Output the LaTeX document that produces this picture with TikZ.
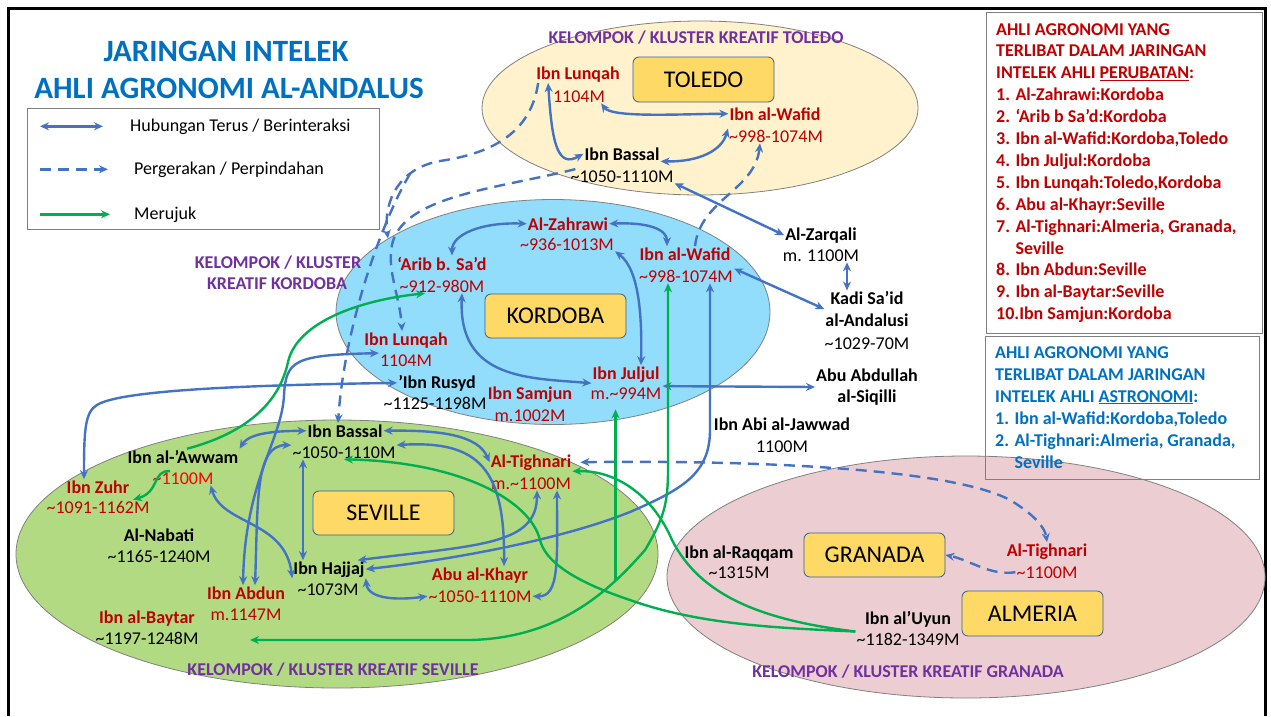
\documentclass[tikz,border=0pt]{standalone}
\usepackage{fontspec}
\setmainfont{Carlito}
\usetikzlibrary{arrows.meta,shapes.geometric}
\tikzset{>={Stealth[length=9pt,width=8pt]}}
\definecolor{blu}{RGB}{68,114,196}
\definecolor{grn}{RGB}{0,176,80}
\definecolor{dred}{RGB}{192,0,0}
\definecolor{purp}{RGB}{112,48,160}
\definecolor{tblue}{RGB}{0,112,192}
\definecolor{ftol}{RGB}{255,242,204}
\definecolor{fkor}{RGB}{146,221,251}
\definecolor{fsev}{RGB}{178,218,130}
\definecolor{fgra}{RGB}{236,206,210}
\definecolor{gold}{RGB}{255,217,102}
\newcommand*{\apx}{\textasciitilde}

\begin{document}
\begin{tikzpicture}[x=1pt,y=-1pt,
  nm/.style={anchor=base,yshift=-6pt,inner sep=1pt,text=dred,font=\fontsize{18}{21}\selectfont\bfseries},
  nmk/.style={nm,text=black},
  dt/.style={anchor=base,yshift=-6pt,inner sep=1pt,text=dred,font=\fontsize{18}{21}\selectfont},
  dtk/.style={dt,text=black},
  ml/.style={anchor=center,inner sep=1pt,align=center,font=\fontsize{18}{21.5}\selectfont\bfseries},
  clus/.style={ellipse,draw=gray,line width=0.8pt,inner sep=0pt},
  city/.style={draw=blu!80!black,line width=0.8pt,fill=gold,rounded corners=6pt,inner sep=0pt,font=\fontsize{24}{27}\selectfont},
  kl/.style={anchor=base,yshift=-6pt,inner sep=1pt,text=purp,font=\fontsize{18}{21}\selectfont\bfseries},
  lg/.style={anchor=base west,yshift=-6pt,inner sep=0pt,font=\fontsize{18}{21}\selectfont},
  bl/.style={draw=blu,line width=2.4pt},
  gr/.style={draw=grn,line width=2.4pt},
  dsh/.style={dash pattern=on 11pt off 7pt}]
\useasboundingbox (0,0) rectangle (1271,716);
\fill[white] (0,0) rectangle (1271,716);
\draw[line width=3pt] (8,716) -- (8,8) -- (1265,8) -- (1265,716);

% clusters
\node[clus,fill=ftol,minimum width=436pt,minimum height=174pt] (toledo) at (700,108) {};
\node[clus,fill=fkor,minimum width=434pt,minimum height=225pt] (kordoba) at (553,312) {};
\node[clus,fill=fsev,minimum width=642pt,minimum height=268pt] (seville) at (337,554) {};
\node[clus,fill=fgra,minimum width=598pt,minimum height=242pt] (granada) at (966,577) {};

\node[kl] (kt) at (696,37) {KELOMPOK / KLUSTER KREATIF TOLEDO};
\node[kl] (kk1) at (278,262) {KELOMPOK / KLUSTER};
\node[kl] (kk2) at (277,283) {KREATIF KORDOBA};
\node[kl] (ks) at (333,669) {KELOMPOK / KLUSTER KREATIF SEVILLE};
\node[kl] (kg) at (908,671) {KELOMPOK / KLUSTER KREATIF GRANADA};

\node[city,minimum width=141pt,minimum height=45pt] (ctol) at (703.5,79.5) {TOLEDO};
\node[city,minimum width=141pt,minimum height=44pt] (ckor) at (555.5,316) {KORDOBA};
\node[city,minimum width=141pt,minimum height=44pt] (csev) at (383.5,513) {SEVILLE};
\node[city,minimum width=141pt,minimum height=44pt] (gra) at (874.5,555) {GRANADA};
\node[city,minimum width=141pt,minimum height=45pt] (alm) at (1032.5,613.5) {ALMERIA};

% title and legend
\node[anchor=base,yshift=-11pt,text=tblue,font=\fontsize{31}{36}\selectfont\bfseries] (t1) at (226,50) {JARINGAN INTELEK};
\node[anchor=base,yshift=-11pt,text=tblue,font=\fontsize{31}{36}\selectfont\bfseries] (t2) at (229,87) {AHLI AGRONOMI AL-ANDALUS};
\draw[gray,line width=0.8pt] (27,108) rectangle (379,229);
\node[lg] (lg1) at (130,125) {Hubungan Terus / Berinteraksi};
\node[lg] (lg2) at (134,168) {Pergerakan / Perpindahan};
\node[lg] (lg3) at (134,213) {Merujuk};
\draw[bl,<->] ([xshift=-90pt]lg1.west) -- ([xshift=-27pt]lg1.west);
\draw[bl,dsh,->] ([xshift=-94pt]lg2.west) -- ([xshift=-26pt]lg2.west);
\draw[gr,->] ([xshift=-94pt]lg3.west) -- ([xshift=-24pt]lg3.west);

% lists on the right
\draw[gray,line width=0.8pt] (986,12) rectangle (1262,333);
\draw[gray,line width=0.8pt] (985,336) rectangle (1259,479);
\foreach \t [count=\i from 0] in {{AHLI AGRONOMI YANG},{TERLIBAT DALAM JARINGAN},
  {INTELEK AHLI \underline{PERUBATAN}:},{1. Al-Zahrawi:Kordoba},{2. ‘Arib b Sa’d:Kordoba},
  {3. Ibn al-Wafid:Kordoba,Toledo},{4. Ibn Juljul:Kordoba},{5. Ibn Lunqah:Toledo,Kordoba},
  {6. Abu al-Khayr:Seville},{7. Al-Tighnari:Almeria, Granada,},{\hphantom{7. }Seville},
  {8. Ibn Abdun:Seville},{9. Ibn al-Baytar:Seville},{10.Ibn Samjun:Kordoba}}
  \node[lg,yshift=6pt,text=dred,font=\fontsize{18}{21}\selectfont\bfseries] (r\i) at (996,{35+21.9*\i}) {\t};
\foreach \t [count=\i from 0] in {{AHLI AGRONOMI YANG},{TERLIBAT DALAM JARINGAN},
  {INTELEK AHLI \underline{ASTRONOMI}:},{1. Ibn al-Wafid:Kordoba,Toledo},
  {2. Al-Tighnari:Almeria, Granada,},{\hphantom{2. }Seville}}
  \node[lg,yshift=6pt,text=tblue,font=\fontsize{18}{21}\selectfont\bfseries] (b\i) at (995,{358+22*\i}) {\t};

% Toledo
\node[nm] (lunT) at (578,73) {Ibn Lunqah};
\node[dt] (lunTd) at (579,96) {1104M};
\node[nm] (wafT) at (775,114) {Ibn al-Wafid};
\node[dt] (wafTd) at (776,136) {\apx998-1074M};
\node[nmk] (basT) at (622,154) {Ibn Bassal};
\node[dtk] (basTd) at (622,176) {\apx1050-1110M};

% Kordoba
\node[nm] (zah) at (568,224) {Al-Zahrawi};
\node[dt] (zahd) at (567,244) {\apx936-1013M};
\node[nm] (arib) at (442,264) {‘Arib b. Sa’d};
\node[dt] (aribd) at (442,286) {\apx912-980M};
\node[nm] (lunK) at (406,339) {Ibn Lunqah};
\node[dt] (lunKd) at (406,360) {1104M};
\node[nm] (wafK) at (685,254) {Ibn al-Wafid};
\node[dt] (wafKd) at (686,276) {\apx998-1074M};
\node[nm] (jul) at (626,373) {Ibn Juljul};
\node[dt] (juld) at (626,393) {m.\apx994M};
\node[nm] (sam) at (530,393) {Ibn Samjun};
\node[dt] (samd) at (530,415) {m.1002M};
\node[nmk] (rus) at (437,382) {’Ibn Rusyd};
\node[dtk] (rusd) at (435,403) {\apx1125-1198M};

% outside the clusters
\node[nmk] (zar) at (821,234) {Al-Zarqali};
\node[dtk] (zard) at (821,255) {m. 1100M};
\node[ml] (kadi) at (867,309) {Kadi Sa’id\\al-Andalusi};
\node[dtk] (kadid) at (867,343) {\apx1029-70M};
\node[ml] (abu) at (867,387) {Abu Abdullah\\al-Siqilli};
\node[nmk] (jaw) at (782,424) {Ibn Abi al-Jawwad};
\node[dtk] (jawd) at (782,446) {1100M};

% Seville
\node[nmk] (basS) at (345,431) {Ibn Bassal};
\node[dtk] (basSd) at (344,452) {\apx1050-1110M};
\node[nmk] (awm) at (183,457) {Ibn al-’Awwam};
\node[dt,text=red] (awmd) at (183,478) {\apx1100M};
\node[nm] (zuhr) at (98,487) {Ibn Zuhr};
\node[dt] (zuhrd) at (98,507) {\apx1091-1162M};
\node[nmk] (nab) at (159,535) {Al-Nabati};
\node[dtk] (nabd) at (159,556) {\apx1165-1240M};
\node[nm] (bay) at (147,617) {Ibn al-Baytar};
\node[dtk] (bayd) at (147,638) {\apx1197-1248M};
\node[nm] (abd) at (246,593) {Ibn Abdun};
\node[dt] (abdd) at (246,614) {m.1147M};
\node[nmk] (haj) at (329,568) {Ibn Hajjaj};
\node[dtk] (hajd) at (328,589) {\apx1073M};
\node[nm] (tigS) at (531,461) {Al-Tighnari};
\node[dt] (tigSd) at (531,483) {m.\apx1100M};
\node[nm] (khay) at (480,574) {Abu al-Khayr};
\node[dt] (khayd) at (480,596) {\apx1050-1110M};

% Granada
\node[nmk] (raq) at (739,552) {Ibn al-Raqqam};
\node[dtk] (raqd) at (739,572) {\apx1315M};
\node[nm] (tigG) at (1047,550) {Al-Tighnari};
\node[dt] (tigGd) at (1047,572) {\apx1100M};
\node[nmk] (uyun) at (908,618) {Ibn al’Uyun};
\node[dtk] (uyund) at (908,639) {\apx1182-1349M};

% links in Toledo
\draw[bl,<->] ([xshift=13pt]lunT.south west) .. controls (552,145) and (558,168) .. (basT.west);
\draw[bl,<->] ([xshift=-5pt]lunTd.south east) .. controls (612,118) and (680,114) .. (wafT.west);
\draw[bl,<->] (basT.south east) .. controls (700,162) and (722,150) .. (wafTd.north west);
\draw[bl,<->] (basTd.south east) -- (zar.west);

% links in Kordoba
\draw[bl,<->] ([xshift=10pt]arib.north) .. controls (452,235) and (480,222) .. (zah.west);
\draw[bl,<->] (zah.east) .. controls (650,222) and (667,230) .. ([xshift=-18pt]wafK.north);
\draw[bl,<->] (zahd.south east) .. controls (640,270) and (642,320) .. ([xshift=15pt]jul.north);
\draw[bl,<->] ([xshift=20pt]aribd.south) .. controls (458,380) and (530,378) .. (jul.south west);
\draw[bl,<->] (wafKd.north east) -- (kadi.west);
\draw[bl,<->] ([xshift=26pt]zard.south) -- ([xshift=-20pt]kadi.north);
\draw[bl,<->] (juld.north east) -- (abu.west);
\draw[bl,<->] ([xshift=24pt]wafKd.south) -- (710,430) .. controls (710,475) and (680,490) .. (630,512)
  .. controls (560,540) and (450,560) .. (haj.east);

% links in Seville
\draw[bl,<->] ([xshift=6pt]tigSd.south) .. controls (537,545) and (480,545) .. ([xshift=-8pt]haj.north east);
\draw[bl,<->] (awm.north east) .. controls (250,432) and (280,431) .. (basS.west);
\draw[bl,<->] ([xshift=-3pt]abd.north) .. controls (245,480) and (282,440) .. (284,395)
  .. controls (286,360) and (295,355) .. (lunKd.north west);
\draw[bl,<->] ([xshift=9pt]abd.north) .. controls (258,500) and (255,445) .. (basSd.north west);
\draw[bl,<->] (rus.west) .. controls (250,385) and (120,390) .. (97,405)
  .. controls (85,412) and (84,430) .. ([xshift=-14pt]zuhr.north);
\draw[bl,<->] ([xshift=-4pt]awmd.south east) .. controls (222,525) and (285,520) .. (haj.south west);
\draw[bl,<->] ([xshift=-41pt]basSd.south) -- ([xshift=-26pt]haj.north);
\draw[bl,<->] (basS.east) .. controls (440,430) and (478,435) .. (tigS.west);
\draw[bl,<->] (basSd.north east) .. controls (480,440) and (505,470) .. ([xshift=24pt]khay.north);
\draw[bl,<->] ([xshift=26pt]tigSd.south) .. controls (557,560) and (560,597) .. (khayd.east);
\draw[bl,<->] (haj.south east) .. controls (368,600) and (400,600) .. (khayd.west);

% moves
\draw[bl,dsh,->] ([xshift=10pt]wafK.north) .. controls (700,200) and (755,190) .. ([xshift=-16pt]wafTd.south);
\draw[bl,dsh,<->] ([xshift=8pt]tigS.east) .. controls (750,460) and (950,468) .. (1010,500)
  .. controls (1035,515) and (1045,528) .. (tigG.north);
\draw[bl,dsh,->] (tigGd.west) .. controls (990,576) and (970,560) .. (gra.east);
\draw[bl,dsh,->] ([xshift=3pt]lunT.south west) .. controls (530,140) and (480,155) .. (440,161)
  .. controls (400,168) and (383,200) .. coordinate[pos=0.3] (dsplit) (kordoba.156);
\draw[bl,dsh,->] ([xshift=6pt]basTd.north west) .. controls (500,188) and (412,195) .. (394,238)
  .. controls (384,265) and (400,295) .. ([xshift=-4pt]lunK.north);
\draw[bl,dsh,->] (dsplit) .. controls (385,215) and (345,320) .. ([xshift=-7pt]basS.north);

% references
\draw[gr,->] ([xshift=4pt]awm.north) .. controls (250,432) and (280,400) .. (288,362)
  .. controls (297,322) and (360,300) .. ([xshift=-17pt]aribd.south);
\draw[gr,->] ([xshift=-13pt]awmd.north) .. controls (152,470) and (160,492) .. ([xshift=35pt]zuhrd.north);
\draw[gr,->] (uyund.north west) .. controls (760,620) and (700,595) .. (672,540)
  .. controls (655,500) and (620,470) .. (tigS.south east);
\draw[gr,->] (uyund.north west) .. controls (780,628) and (700,625) .. (630,600)
  .. controls (570,580) and (545,560) .. (540,540) .. controls (530,500) and (460,462) .. (basSd.south);
\coordinate (gtip) at (250,640);
\coordinate (jtip) at ([yshift=-9pt]juld.south);
\draw[gr,<->] (gtip) -- (470,640) .. controls (560,638) and (610,590) .. coordinate[pos=0.75] (gbr) (645,550)
  .. controls (663,520) and (668,505) .. (668,470) -- ([xshift=-18pt]wafKd.south);
\draw[gr,->] (gbr) -- (gbr |- jtip);
\end{tikzpicture}
\end{document}
